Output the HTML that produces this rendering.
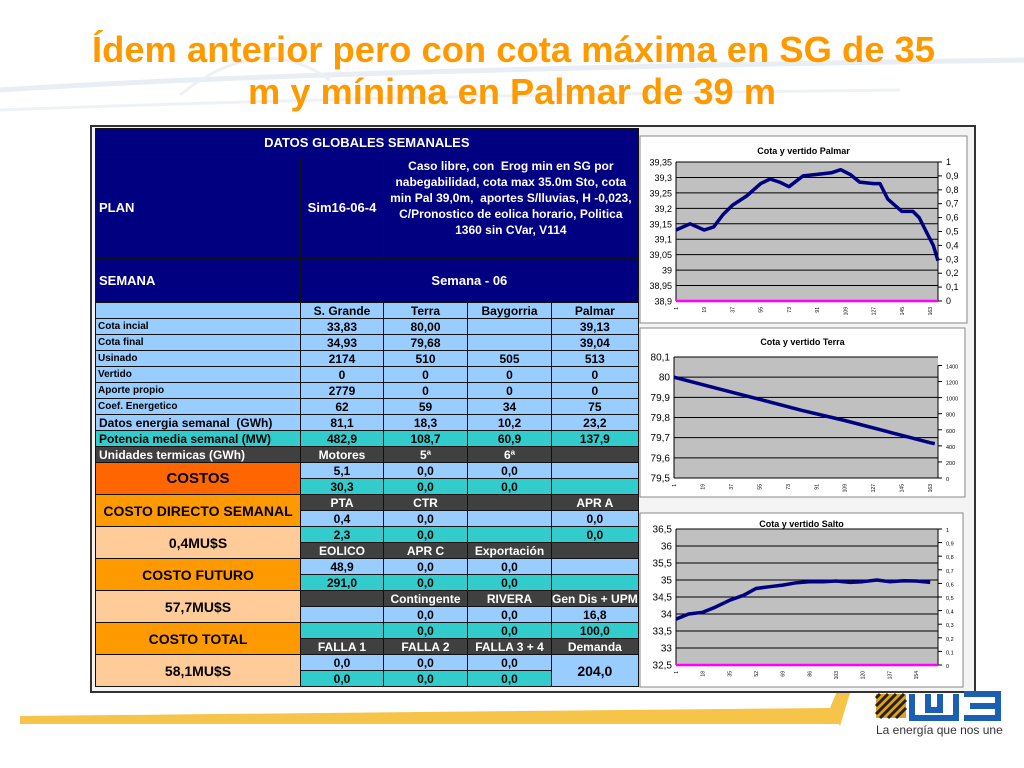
<!DOCTYPE html>
<html><head><meta charset="utf-8">
<style>
body{margin:0;width:1024px;height:768px;overflow:hidden;background:#fff;font-family:"Liberation Sans",sans-serif;position:relative}
#frame{position:absolute;left:90px;top:125px;width:882px;height:564px;border:2px solid #333;background:#f4f4f4}
table{position:absolute;left:3px;top:1px;border-collapse:collapse;table-layout:fixed;font-weight:bold;font-size:12px}
td{border:1px solid #111;padding:0;height:15px;line-height:14px;text-align:center;overflow:hidden;white-space:nowrap}
.nv{background:#000080;color:#fff}
.lb{background:#99ccff;color:#000}
.tl{background:#33cccc;color:#000}
.dk{background:#404040;color:#fff}
.or{background:#ff6600;color:#000;font-size:15px}
.og{background:#ff9900;color:#000;font-size:14px}
.pc{background:#ffcc99;color:#000;font-size:14px}
.sm{font-size:10px;text-align:left;padding-left:2px}
.lf{text-align:left;padding-left:3px}
svg text{font-family:"Liberation Sans",sans-serif}
</style></head><body>
<svg width="1024" height="768" style="position:absolute;left:0;top:0">
<path d="M0 90 Q300 70 1024 60" stroke="#e8eef4" stroke-width="5" fill="none"/>
<path d="M0 110 Q400 95 900 90" stroke="#eef2f7" stroke-width="3" fill="none"/>
<path d="M180 95 Q260 30 330 80" stroke="#edf1f6" stroke-width="3" fill="none"/>
<path d="M20 716 L830 708 L840 724 L20 724 Z" fill="#f7c44a"/>
<path d="M830 708 L850 660 L860 660 L840 726 Z" fill="#f7c44a"/>
</svg>
<svg width="1024" height="115" style="position:absolute;left:0;top:0">
<text x="92" y="62" textLength="843" lengthAdjust="spacingAndGlyphs" font-size="36" font-weight="bold" fill="#ff9900" style="font-family:'Liberation Sans Narrow','Liberation Sans',sans-serif">Ídem anterior pero con cota máxima en SG de 35</text>
<text x="248" y="104" textLength="528" lengthAdjust="spacingAndGlyphs" font-size="36" font-weight="bold" fill="#ff9900" style="font-family:'Liberation Sans Narrow','Liberation Sans',sans-serif">m y mínima en Palmar de 39 m</text>
</svg>
<div id="frame">
<table>
<colgroup><col style="width:205px"><col style="width:83px"><col style="width:84px"><col style="width:84px"><col style="width:84px"></colgroup>
<tr><td colspan="5" class="nv" style="height:28px;font-size:13px">DATOS GLOBALES SEMANALES</td></tr>
<tr><td class="nv lf" style="height:100px;font-size:13px">PLAN</td><td class="nv" style="font-size:13px">Sim16-06-4</td><td colspan="3" class="nv" style="white-space:normal;font-size:12px;line-height:16px;vertical-align:top;padding:0 4px">Caso libre, con &nbsp;Erog min en SG por nabegabilidad, cota max 35.0m Sto, cota min Pal 39,0m, &nbsp;aportes S/lluvias, H -0,023, C/Pronostico de eolica horario, Politica 1360 sin CVar, V114</td></tr>
<tr><td class="nv lf" style="height:43px;font-size:13px">SEMANA</td><td colspan="4" class="nv" style="font-size:13px">Semana - 06</td></tr>
<tr class="lb"><td></td><td>S. Grande</td><td>Terra</td><td>Baygorria</td><td>Palmar</td></tr>
<tr class="lb"><td class="sm">Cota incial</td><td>33,83</td><td>80,00</td><td></td><td>39,13</td></tr>
<tr class="lb"><td class="sm">Cota final</td><td>34,93</td><td>79,68</td><td></td><td>39,04</td></tr>
<tr class="lb"><td class="sm">Usinado</td><td>2174</td><td>510</td><td>505</td><td>513</td></tr>
<tr class="lb"><td class="sm">Vertido</td><td>0</td><td>0</td><td>0</td><td>0</td></tr>
<tr class="lb"><td class="sm">Aporte propio</td><td>2779</td><td>0</td><td>0</td><td>0</td></tr>
<tr class="lb"><td class="sm">Coef. Energetico</td><td>62</td><td>59</td><td>34</td><td>75</td></tr>
<tr class="lb"><td class="lf">Datos energia semanal &nbsp;(GWh)</td><td>81,1</td><td>18,3</td><td>10,2</td><td>23,2</td></tr>
<tr class="tl"><td class="lf">Potencia media semanal (MW)</td><td>482,9</td><td>108,7</td><td>60,9</td><td>137,9</td></tr>
<tr class="dk"><td class="lf">Unidades termicas (GWh)</td><td>Motores</td><td>5ª</td><td>6ª</td><td></td></tr>
<tr><td rowspan="2" class="or">COSTOS</td><td class="lb">5,1</td><td class="lb">0,0</td><td class="lb">0,0</td><td class="lb"></td></tr>
<tr class="tl"><td>30,3</td><td>0,0</td><td>0,0</td><td></td></tr>
<tr><td rowspan="2" class="og">COSTO DIRECTO SEMANAL</td><td class="dk">PTA</td><td class="dk">CTR</td><td class="dk"></td><td class="dk">APR A</td></tr>
<tr class="lb"><td>0,4</td><td>0,0</td><td></td><td>0,0</td></tr>
<tr><td rowspan="2" class="pc">0,4MU$S</td><td class="tl">2,3</td><td class="tl">0,0</td><td class="tl"></td><td class="tl">0,0</td></tr>
<tr class="dk"><td>EOLICO</td><td>APR C</td><td>Exportación</td><td></td></tr>
<tr><td rowspan="2" class="og">COSTO FUTURO</td><td class="lb">48,9</td><td class="lb">0,0</td><td class="lb">0,0</td><td class="lb"></td></tr>
<tr class="tl"><td>291,0</td><td>0,0</td><td>0,0</td><td></td></tr>
<tr><td rowspan="2" class="pc">57,7MU$S</td><td class="dk"></td><td class="dk">Contingente</td><td class="dk">RIVERA</td><td class="dk">Gen Dis + UPM</td></tr>
<tr class="lb"><td></td><td>0,0</td><td>0,0</td><td>16,8</td></tr>
<tr><td rowspan="2" class="og">COSTO TOTAL</td><td class="tl"></td><td class="tl">0,0</td><td class="tl">0,0</td><td class="tl">100,0</td></tr>
<tr class="dk"><td>FALLA 1</td><td>FALLA 2</td><td>FALLA 3 + 4</td><td>Demanda</td></tr>
<tr><td rowspan="2" class="pc">58,1MU$S</td><td class="lb">0,0</td><td class="lb">0,0</td><td class="lb">0,0</td><td rowspan="2" class="lb" style="font-size:14px">204,0</td></tr>
<tr class="tl"><td>0,0</td><td>0,0</td><td>0,0</td></tr>
</table>
</div>
<svg id="charts" width="1024" height="768" style="position:absolute;left:0;top:0"></svg>
<svg width="150" height="70" style="position:absolute;left:870px;top:680px">
<g>
<rect x="6" y="14" width="30" height="24" fill="#e0a020"/>
<path d="M6 18 L10 14 M6 26 L18 14 M6 34 L26 14 M10 38 L34 14 M18 38 L36 20 M26 38 L36 28" stroke="#222" stroke-width="3"/>
</g>
<path d="M42 14 V38 H86 V14 M58 14 V30 H70 V14" stroke="#1a5fb4" stroke-width="6" fill="none"/>
<path d="M94 14 H128 V38 H94 M100 26 H128" stroke="#1a5fb4" stroke-width="6" fill="none"/>
<text x="6" y="54" font-size="12" fill="#333">La energía que nos une</text>
</svg>
<script>
var palmarX=[1,10,19,25,31,37,46,55,61,67,73,82,91,100,106,112,118,127,131,136,145,152,156,160,165,168];
var palmarY=[39.13,39.15,39.13,39.14,39.18,39.21,39.24,39.28,39.295,39.285,39.27,39.305,39.31,39.315,39.325,39.31,39.285,39.28,39.28,39.23,39.19,39.19,39.17,39.13,39.08,39.03];
var palmarTicksL=["38,9","38,95","39","39,05","39,1","39,15","39,2","39,25","39,3","39,35"];
var palmarTicksR=["0","0,1","0,2","0,3","0,4","0,5","0,6","0,7","0,8","0,9","1"];
var palmarCats=["1","19","37","55","73","91","109","127","145","163"];
var terraX=[1,28,55,82,109,136,163,166];
var terraY=[80.0,79.945,79.89,79.835,79.785,79.73,79.675,79.67];
var terraTicksL=["79,5","79,6","79,7","79,8","79,9","80","80,1"];
var terraTicksR=["0","200","400","600","800","1000","1200","1400"];
var terraCats=["1","19","37","55","73","91","109","127","145","163"];
var saltoX=[1,9,18,26,35,44,52,60,69,78,86,95,103,112,120,129,137,146,154,163];
var saltoY=[33.85,34.0,34.05,34.2,34.4,34.55,34.75,34.8,34.85,34.92,34.95,34.95,34.97,34.93,34.95,35.0,34.95,34.98,34.97,34.93];
var saltoTicksL=["32,5","33","33,5","34","34,5","35","35,5","36","36,5"];
var saltoTicksR=["0","0,1","0,2","0,3","0,4","0,5","0,6","0,7","0,8","0,9","1"];
var saltoCats=["1","18","35","52","69","86","103","120","137","154"];
var NS='http://www.w3.org/2000/svg';
var root=document.getElementById('charts');
function mk(t,a,p){var e=document.createElementNS(NS,t);for(var k in a)e.setAttribute(k,a[k]);(p||root).appendChild(e);return e;}
function chart(c){
 var g=mk('g',{});
 
 
 mk('rect',{x:c.bx,y:c.by,width:c.bw,height:c.bh,fill:'#fff',stroke:'#888'},g);
 var t=mk('text',{x:c.bx+c.bw/2,y:c.ty,'font-size':9,'font-weight':'bold','text-anchor':'middle'},g);t.textContent=c.title;
 
 
 mk('rect',{x:c.x0,y:c.y0,width:c.x1-c.x0,height:c.y1-c.y0,fill:'#c0c0c0'},g);
 var nl=c.tl.length;
 function ys(v){return c.y1-(v-c.ymin)/(c.ymax-c.ymin)*(c.y1-c.y0);}
 function xs(v){return c.x0+(v-1)/(c.xn-1)*(c.x1-c.x0);}
 for(var i=0;i<nl;i++){var y=c.y1-i*(c.y1-c.y0)/(nl-1);
  if(i>0)mk('line',{x1:c.x0,x2:c.x1,y1:y,y2:y,stroke:'#000','stroke-width':1},g);
  var tx=mk('text',{x:c.x0-4,y:y+3.5,'font-size':c.lf,'text-anchor':'end'},g);tx.textContent=c.tl[i];
  
  }
 var nr=c.tr.length,ry=c.y1-(c.y1-c.y0)*c.rtop;
 for(i=0;i<nr;i++){var y2=c.y1-i*(c.y1-ry)/(nr-1);
  mk('line',{x1:c.x1,x2:c.x1+4,y1:y2,y2:y2,stroke:'#000'},g);
  var tr=mk('text',{x:c.x1+8,y:y2+3,'font-size':c.rf},g);tr.textContent=c.tr[i];
  
  }
 mk('line',{x1:c.x0,x2:c.x0,y1:c.y0,y2:c.y1,stroke:'#000'},g);
 mk('line',{x1:c.x1,x2:c.x1,y1:ry,y2:c.y1,stroke:'#000'},g);
 mk('line',{x1:c.x0,x2:c.x1,y1:c.y1,y2:c.y1,stroke:c.mag?'#ff00ff':'#000','stroke-width':c.mag?2.5:1},g);
 for(i=0;i<c.cats.length;i++){var cx=xs(+c.cats[i]);
  var ct=mk('text',{x:cx+2,y:c.y1+6,'font-size':5,transform:'rotate(-90 '+(cx+2)+' '+(c.y1+6)+')','text-anchor':'end'},g);ct.textContent=c.cats[i];
  
  }
 var d='';for(i=0;i<c.X.length;i++)d+=(i?'L':'M')+xs(c.X[i]).toFixed(1)+' '+ys(c.Y[i]).toFixed(1);
 var p=mk('path',{d:d,stroke:'#000080','stroke-width':3.5,fill:'none','stroke-linejoin':'round'},g);
 
 
}
chart({name:'chart-palmar',title:'Cota  y vertido  Palmar',bx:640,by:136,bw:327,bh:187,ty:154,x0:676,x1:938,y0:162,y1:301,ymin:38.9,ymax:39.35,xn:168,tl:palmarTicksL,tr:palmarTicksR,rtop:1,cats:palmarCats,X:palmarX,Y:palmarY,lf:9,rf:9,mag:true});
chart({name:'chart-terra',title:'Cota y vertido Terra',bx:640,by:328,bw:325,bh:169,ty:345,x0:674,x1:938,y0:357,y1:478,ymin:79.5,ymax:80.1,xn:168,tl:terraTicksL,tr:terraTicksR,rtop:0.93,cats:terraCats,X:terraX,Y:terraY,lf:10,rf:5.5,mag:false});
chart({name:'chart-salto',title:'Cota y vertido Salto',bx:640,by:513,bw:323,bh:174,ty:527,x0:676,x1:938,y0:529,y1:665,ymin:32.5,ymax:36.5,xn:168,tl:saltoTicksL,tr:saltoTicksR,rtop:1,cats:saltoCats,X:saltoX,Y:saltoY,lf:10,rf:5.5,mag:true});
</script>
</body></html>
